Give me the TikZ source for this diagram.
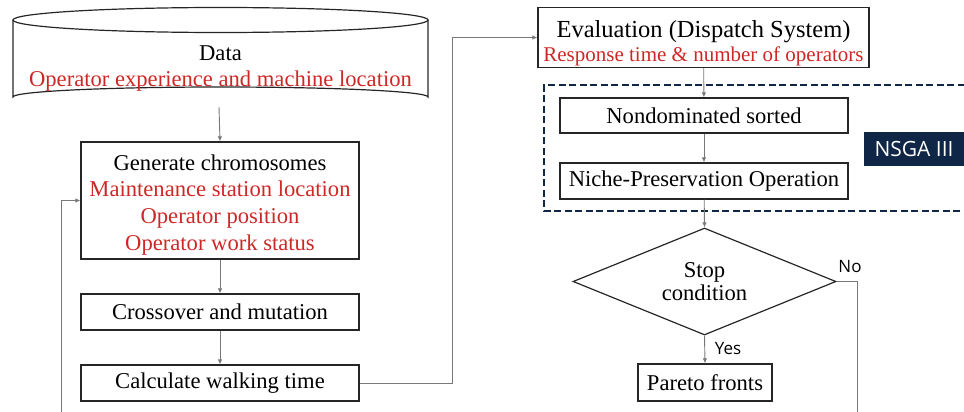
\documentclass[tikz,border=0pt]{standalone}
\usepackage{fontspec}
\setmainfont{Liberation Serif}
\newfontfamily\uisans{Open Sans}
\usetikzlibrary{shapes.geometric,arrows.meta}
\definecolor{redtxt}{RGB}{205,40,38}
\definecolor{navy}{RGB}{16,38,70}
\definecolor{linegray}{RGB}{120,120,120}
\begin{document}
\begin{tikzpicture}[x=1pt,y=-1pt,
  box/.style={draw=black!85, line width=1.2pt, rectangle, inner sep=0pt, align=center,
    font=\fontsize{22.6}{26.7}\selectfont},
  conn/.style={draw=linegray, line width=0.9pt, -{Latex[length=5pt,width=4.5pt]}},
  lbl/.style={font=\uisans\fontsize{17}{20}\selectfont, inner sep=0pt}]
\useasboundingbox (0,0) rectangle (964,412);

% cylinder
\draw[black!85, line width=1.2pt] (220.5,20) ellipse [x radius=207.5, y radius=12.5];
\draw[black!85, line width=1.2pt] (13,20) -- (13,97) arc [start angle=180, end angle=360, x radius=207.5, y radius=10] -- (428,20);
\node[align=center, inner sep=0pt, font=\fontsize{22.6}{26}\selectfont] (data) at (220.5,69)
  {Data\\\textcolor{redtxt}{Operator experience and machine location}};
\coordinate (databot) at (219,107);

% NSGA dashed region
\draw[navy, line width=2.2pt, dash pattern=on 7pt off 3.5pt] (975,85) -- (544,85) -- (544,211) -- (975,211);
\node[fill=navy, text=white, minimum width=100pt, minimum height=34pt, inner sep=0pt,
  font=\uisans\fontsize{21}{22}\selectfont] (nsga) at (914,149) {NSGA III};

% left column
\node[box, minimum width=278pt, minimum height=117pt] (gen) at (220,200.5)
  {\rule{0pt}{24pt}Generate chromosomes\\\textcolor{redtxt}{Maintenance station location}\\\textcolor{redtxt}{Operator position}\\\textcolor{redtxt}{Operator work status}};
\node[box, minimum width=278pt, minimum height=36pt] (cross) at (220,312) {Crossover and mutation};
\node[box, minimum width=278pt, minimum height=36pt] (calc) at (220,383) {Calculate walking time};

% right column
\node[box, minimum width=331pt, minimum height=60pt, font=\fontsize{24.5}{24}\selectfont] (eval) at (703.5,37.5)
  {\rule{0pt}{29pt}Evaluation (Dispatch System)\\\textcolor{redtxt}{\fontsize{21}{24}\selectfont Response time \& number of operators}};
\node[box, minimum width=288pt, minimum height=35pt] (nond) at (704,115.5) {Nondominated sorted};
\node[box, minimum width=288pt, minimum height=36pt] (niche) at (704,181) {Niche-Preservation Operation};
\node[draw=black!85, line width=1.2pt, diamond, aspect=2.46, inner sep=0pt,
  minimum width=263pt, minimum height=107pt, align=center,
  font=\fontsize{22.6}{22.5}\selectfont] (stop) at (704.5,281.5) {Stop\\condition};
\node[box, minimum width=134pt, minimum height=37pt] (pareto) at (705,382.5) {Pareto fronts};

% connectors
\draw[conn] (databot) -- (gen.north);
\draw[conn] (gen) -- (cross);
\draw[conn] (cross) -- (calc);
\draw[conn] (calc.east) -- (452,383) |- (eval.west);
\draw[conn] (eval) -- (nond);
\draw[conn] (nond) -- (niche);
\draw[conn] (niche) -- (stop.north);
\draw[conn] (stop.south) -- (pareto.north);
\coordinate (loopr) at (857,430);
\coordinate (loopl) at (61,430);
\draw[conn] (stop.east) -| (loopr) -- (loopl) |- (gen.west);

\node[lbl] (yes) at (728,349) {Yes};
\node[lbl] (no) at (850,267) {No};
\end{tikzpicture}
\end{document}
